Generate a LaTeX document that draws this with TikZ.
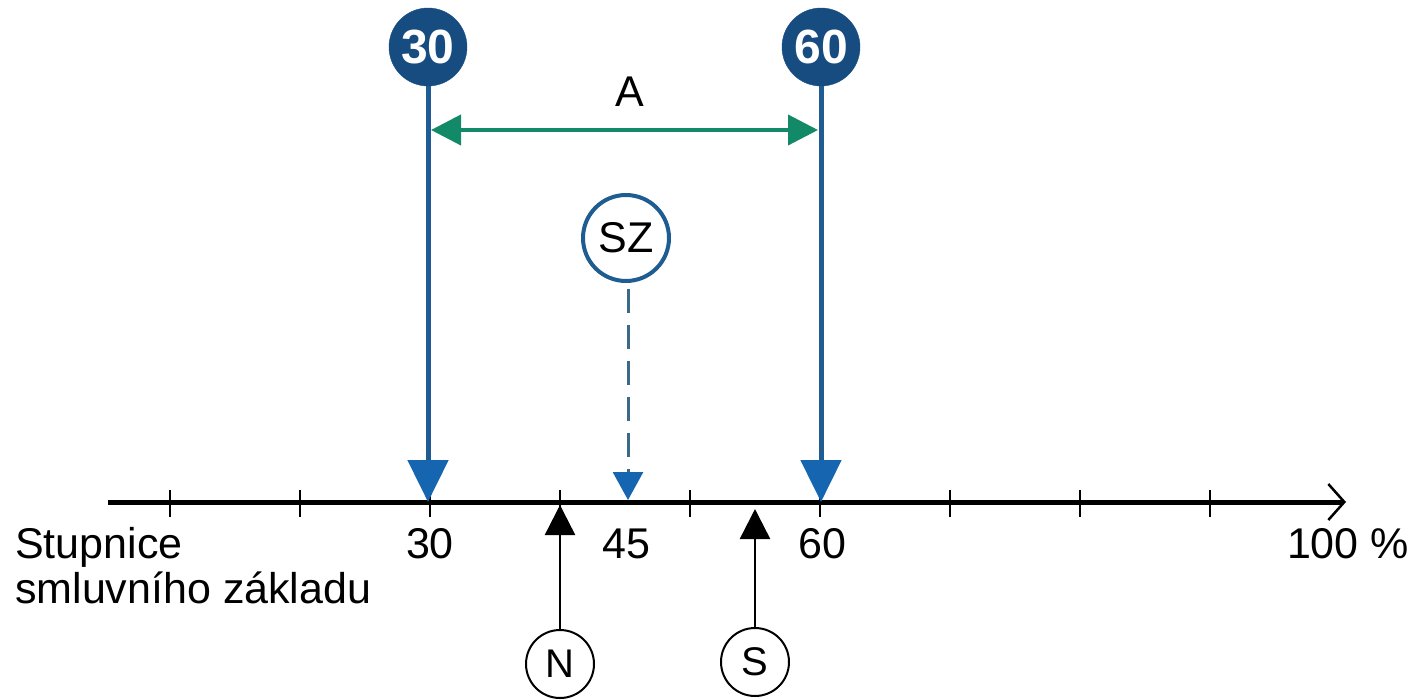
\documentclass[tikz,border=0pt]{standalone}
\usepackage{fontspec}
\setmainfont{Liberation Sans}
\usetikzlibrary{arrows.meta}
\definecolor{navy}{HTML}{174C80}
\definecolor{lineblue}{HTML}{1F5C91}
\definecolor{headblue}{HTML}{1565B0}
\definecolor{dashblue}{HTML}{3A6A88}
\definecolor{mygreen}{HTML}{128A68}
\begin{document}
\begin{tikzpicture}[x=1pt,y=-1pt,
  lbl/.style={font=\fontsize{43}{47}\selectfont, inner sep=0pt},
  valcircle/.style={circle, fill=navy, draw=navy, minimum size=78pt, inner sep=0pt,
    text=white, font=\fontsize{48}{48}\selectfont\bfseries},
  szcircle/.style={circle, draw=lineblue, line width=4pt, fill=white, minimum size=86pt, inner sep=0pt,
    font=\fontsize{43}{43}\selectfont},
  refcircle/.style={circle, draw=black, line width=2pt, fill=white, minimum size=68pt, inner sep=0pt,
    font=\fontsize{40}{40}\selectfont},
  valarrow/.style={draw=lineblue, line width=5pt, -{Triangle[length=42pt,width=40pt,color=headblue]}},
  refarrow/.style={draw=black, line width=2.5pt, -{Triangle[length=30pt,width=30pt]}},
  tickmark/.style={line width=2pt},
]
\useasboundingbox (0,0) rectangle (1413,699);

% scale axis
\coordinate (axstart) at (108,502);
\coordinate (axend) at (1346,502);
\draw[line width=5pt, -{Straight Barb[length=16pt,width=36pt,line width=2.5pt]}] (axstart) -- (axend);
\foreach \x in {170,300,430,560,690,820,950,1080,1210}
  \draw[tickmark] (\x,490) -- (\x,517);

% scale labels
\node[lbl, anchor=base] (l30) at (430,558) {30};
\node[lbl, anchor=base] (l45) at (626,558) {45};
\node[lbl, anchor=base] (l60) at (822,558) {60};
\node[lbl, anchor=base] (l100) at (1348,558) {100 \%};
\node[lbl, anchor=base west] (scale1) at (15,558) {Stupnice};
\node[lbl, anchor=base west] (scale2) at (15,603) {smluvního základu};

% limit values 30 and 60
\node[valcircle] (c30) at (428,47) {30};
\node[valcircle] (c60) at (821,47) {60};
\coordinate (t30) at (428,502);
\coordinate (t60) at (821,502);
\draw[valarrow] (c30.south) -- (t30);
\draw[valarrow] (c60.south) -- (t60);

% range A
\coordinate (g1) at (431,130);
\coordinate (g2) at (818,130);
\draw[draw=mygreen, line width=4pt, {Triangle[length=30pt,width=30pt]}-{Triangle[length=30pt,width=30pt]}] (g1) -- (g2);
\node[lbl] (A) at (630,92) {A};

% SZ
\node[szcircle] (sz) at (626,238) {SZ};
\coordinate (t45) at (628,500);
\draw[draw=dashblue, line width=3pt, dash pattern=on 24pt off 12pt,
  -{Triangle[length=28pt,width=30pt,color=headblue]}] (sz.south) ++(2,6) -- (t45);

% N and S
\node[refcircle] (n) at (560,664) {N};
\node[refcircle] (s) at (755,662) {S};
\coordinate (tn) at (560,505);
\coordinate (ts) at (755,509);
\draw[refarrow] (n.north) -- (tn);
\draw[refarrow] (s.north) -- (ts);
\end{tikzpicture}
\end{document}
